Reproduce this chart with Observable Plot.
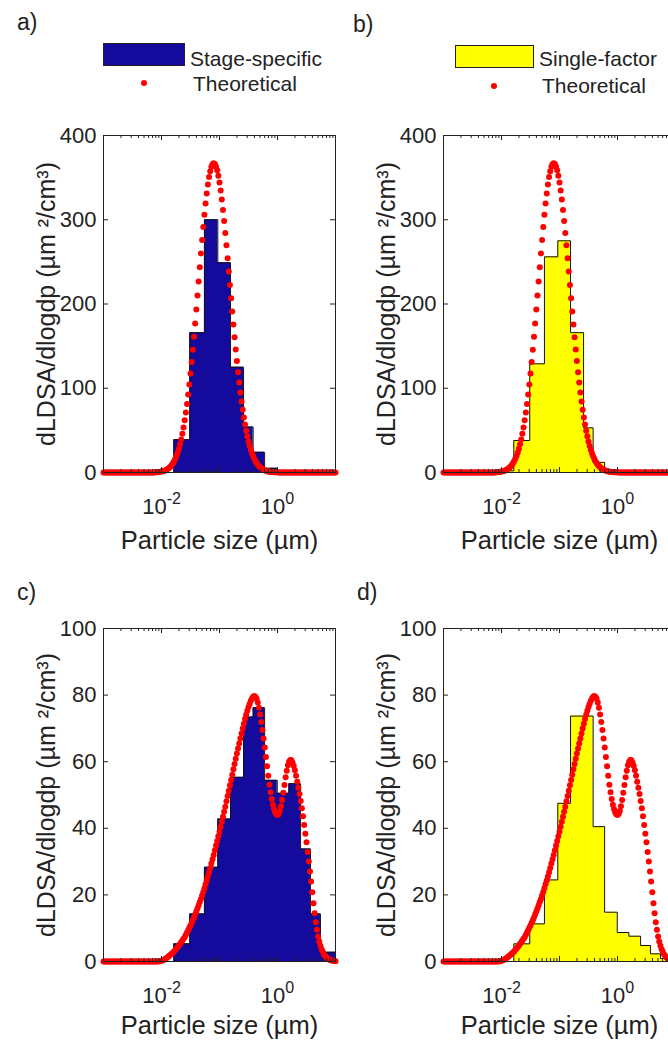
<!DOCTYPE html>
<html><head><meta charset="utf-8">
<script src="https://cdn.jsdelivr.net/npm/d3@7"></script>
<script src="https://cdn.jsdelivr.net/npm/@observablehq/plot@0.6"></script>
<style>
html,body{margin:0;padding:0;background:#fff;overflow:hidden;}
#fig{position:relative;width:668px;height:1044px;overflow:hidden;font-family:"Liberation Sans",Arial,sans-serif;color:#222;background:#fff;}
.abs{position:absolute;white-space:nowrap;line-height:1;}
.plabel{font-size:23px;}
.legtext{font-size:21px;}
.swatch{position:absolute;border:1px solid #222;box-sizing:border-box;}
.ldot{position:absolute;width:6px;height:6px;border-radius:50%;background:#f00;}
</style></head><body><div id="fig"></div>
<script>
// ---------- data ----------
const binEdges = [0.006, 0.0163, 0.0307, 0.055, 0.0935, 0.155, 0.26, 0.38, 0.6, 0.99, 1.57, 2.5, 3.7, 5.5, 10];
const stageA  = [0, 39, 166, 300, 249, 125, 54, 24, 5, 1, 0.5, 0, 0, 0];
const singleB = [2, 38, 129, 256, 275, 166, 53, 12, 2, 0.5, 0, 0, 0, 0];
const stageC  = [0, 5.3, 14.3, 28.3, 42.8, 55.3, 73.4, 76.2, 54.4, 50.5, 53.4, 33.8, 14.3, 2.8];
const singleD = [0, 5.3, 11.3, 24.5, 47.5, 73.7, 73.7, 40.5, 14.8, 8.7, 7.6, 4.8, 2.3, 0.9];

// theoretical curves sampled at log10(dp) = -3 + 0.02*i (i = 0..200)
const theoryLogStart = -3, theoryLogStep = 0.02;
const theoryAB = [
 0,0,0,0,0,0,0,0,0,0,0,0,0,0,0,
 0,0,0,0,0,0,0,0,0,0,0,0,0,0,0,
 0,0,0,0,0,0,0,0,0,0,0,0,0,0,0,
 0.3,0.4,0.5,0.7,0.9,1.1,1.5,1.9,2.4,3.1,3.9,4.8,6.0,7.4,9.2,11.2,13.6,16.5,19.9,23.8,
 28.3,33.5,39.3,46.0,53.5,61.9,71.2,81.3,92.5,104.5,117.5,131.3,145.8,161.1,177.0,193.4,
 210.0,226.8,243.5,260.0,276.0,291.4,305.8,319.2,331.2,341.8,350.7,357.7,362.8,366.0,367,
 366.1,363.3,358.7,352.3,344.3,334.8,323.9,311.7,298.4,284.3,269.6,254.2,238.5,222.6,206.7,
 191.1,175.6,160.5,146.1,132.2,119.1,106.7,95.1,84.4,74.5,65.4,57.1,49.7,43.0,36.9,
 31.6,26.9,22.8,19.3,16.1,13.4,11.2,9.2,7.6,6.2,5.0,4.1,3.3,2.6,2.1,
 1.7,1.3,1.0,0.8,0.6,0.45,0.35,0.25,0.2,0.15,0.1,
 0,0,0,0,0,0,0,0,0,0,0,0,0,0,0,
 0,0,0,0,0,0,0,0,0,0,0,0,0,0,0,
 0,0,0,0,0,0,0,0,0,0,0,0,0,0,0,
 0,0,0,0
];
const theoryCD = [
 0,0,0,0,0,0,0,0,0,0,0,0,0,0,0,
 0,0,0,0,0,0,0,0,0,0,0,0,0,0,0,
 0,0,0,0,0,0,0,0,0,0,0,0,0,0,0,
 0,0,0,
 0.05,0.1,0.2,0.35,0.5,0.7,0.95,1.2,1.5,1.8,
 2.1,2.4,2.7,3.1,3.5,3.9,4.35,4.8,5.3,5.8,
 6.3,6.8,7.3,8.0,8.7,9.4,10.1,10.8,11.6,12.4,
 13.2,14.1,15.0,15.9,16.9,17.9,18.8,19.8,20.9,22.0,
 23.2,24.3,25.5,26.8,28.1,29.4,30.7,32.0,33.4,34.8,
 36.2,37.6,39.0,40.5,42.0,43.5,45.0,46.5,48.1,49.7,
 51.3,52.9,54.5,56.1,57.7,59.3,60.9,62.5,64.0,65.5,
 67.0,68.5,70.0,71.4,72.8,74.1,75.3,76.4,77.4,78.3,
 79.0,79.5,79.7,79.5,78.9,77.8,76.2,74.2,71.9,69.5,
 67.0,64.3,61.4,58.6,55.8,53.1,50.8,48.8,47.1,45.8,
 44.8,44.2,44.0,44.3,45.2,46.6,48.5,50.7,53.0,55.3,
 57.3,58.9,60.0,60.5,60.4,59.7,58.7,57.4,55.8,54.0,
 52.2,50.3,48.2,46.0,43.6,41.0,38.4,35.8,32.9,30.0,
 27.0,24.0,20.8,17.5,14.5,11.8,9.5,7.5,6.0,4.7,
 3.7,2.9,2.2,1.7,1.3,1.0,0.75,0.55,0.4,0.3,
 0.2,0.15,0.1
];

const yTicksTop = [0, 100, 200, 300, 400];
const yTicksBottom = [0, 20, 40, 60, 80, 100];
const xMajorTicks = [0.001, 0.01, 0.1, 1, 10];
const xLabelTicks = [0.01, 1];
const xTitle = "Particle size (µm)";
const yTitle = "dLDSA/dlogdp (µm ²/cm³)";
const legendStage = "Stage-specific";
const legendSingle = "Single-factor";
const legendTheory = "Theoretical";
const panelLabels = ["a)", "b)", "c)", "d)"];

const xMinorTicks = [];
for (let e = -3; e <= 0; e++) for (let m = 2; m <= 9; m++) xMinorTicks.push(m * Math.pow(10, e));

const BLUE = "#140a9c", YELLOW = "#ffff00", RED = "#ff0000", INK = "#222";
const FONT = '"Liberation Sans", Arial, sans-serif';
const fig = document.getElementById("fig");
const NS = "http://www.w3.org/2000/svg";

function panel({left, top, frameH, yMax, yTicks, hist, fill, theory, titleDy}) {
  const mL = 103, mR = 5, mT = 10, mB = 85, W = 232;
  const steps = [{x: binEdges[0], y: 0}];
  hist.forEach((v, j) => { steps.push({x: binEdges[j], y: v}); steps.push({x: binEdges[j + 1], y: v}); });
  steps.push({x: binEdges[binEdges.length - 1], y: 0});
  const th = theory.map((v, i) => ({x: Math.pow(10, theoryLogStart + theoryLogStep * i), y: v}));
  const svg = Plot.plot({
    width: mL + W + mR, height: mT + frameH + mB,
    marginLeft: mL, marginRight: mR, marginTop: mT, marginBottom: mB,
    style: {background: "transparent", fontFamily: FONT, fontSize: "22px", color: INK, overflow: "visible", maxWidth: "none"},
    x: {type: "log", domain: [1e-3, 10]},
    y: {domain: [0, yMax]},
    marks: [
      Plot.areaY(steps, {x: "x", y1: 0, y2: "y", fill}),
      Plot.line(steps, {x: "x", y: "y", stroke: "#111", strokeWidth: 1}),
      Plot.dot(th, {x: "x", y: "y", r: 3, fill: RED, stroke: null}),
      Plot.frame({stroke: INK}),
      Plot.tickY(yTicks, {y: d => d, insetRight: W - 5, stroke: INK}),
      Plot.tickY(yTicks, {y: d => d, insetLeft: W - 5, stroke: INK}),
      Plot.tickX(xMajorTicks, {x: d => d, insetTop: frameH - 5, stroke: INK}),
      Plot.tickX(xMajorTicks, {x: d => d, insetBottom: frameH - 5, stroke: INK}),
      Plot.tickX(xMinorTicks, {x: d => d, insetTop: frameH - 3, stroke: INK}),
      Plot.tickX(xMinorTicks, {x: d => d, insetBottom: frameH - 3, stroke: INK}),
      Plot.axisY({ticks: yTicks, tickSize: 0, tickPadding: 7, label: null, tickFormat: d => String(d)}),
      Plot.axisX({ticks: xLabelTicks, tickSize: 0, tickPadding: 26, label: null, tickFormat: d => String(Math.round(Math.log10(d)))}),
      Plot.text([xTitle], {frameAnchor: "bottom", dy: titleDy, lineAnchor: "bottom", text: d => d, fontSize: 25.5, fill: INK}),
      Plot.text([yTitle], {frameAnchor: "left", textAnchor: "middle", dx: -57, rotate: -90, text: d => d, fontSize: 25, fill: INK})
    ]
  });
  svg.querySelectorAll('[aria-label="x-axis tick label"] text').forEach(t => {
    const ex = t.textContent;
    t.textContent = "";
    const a = document.createElementNS(NS, "tspan"); a.textContent = "10";
    const b = document.createElementNS(NS, "tspan"); b.textContent = ex;
    b.setAttribute("dy", "-10"); b.setAttribute("font-size", "16px");
    t.append(a, b);
  });
  const wrap = document.createElement("div");
  wrap.className = "abs";
  wrap.style.left = left + "px"; wrap.style.top = (top - mT) + "px";
  wrap.appendChild(svg);
  fig.appendChild(wrap);
}

function addText(txt, cls, left, top) {
  const d = document.createElement("div");
  d.className = "abs " + cls; d.textContent = txt;
  d.style.left = left + "px"; d.style.top = top + "px";
  fig.appendChild(d);
}
function addLegend(label, color, sx, sy, sw, tx, ty, dx, dy, t2x, t2y) {
  const s = document.createElement("div");
  s.className = "swatch"; s.style.left = sx + "px"; s.style.top = sy + "px";
  s.style.width = sw + "px"; s.style.height = "23px"; s.style.background = color;
  fig.appendChild(s);
  addText(label, "legtext", tx, ty);
  const dot = document.createElement("div");
  dot.className = "ldot"; dot.style.left = (dx - 3) + "px"; dot.style.top = (dy - 3) + "px";
  fig.appendChild(dot);
  addText(legendTheory, "legtext", t2x, t2y);
}

panel({left: 0,   top: 135, frameH: 337, yMax: 400, yTicks: yTicksTop, hist: stageA,  fill: BLUE,   theory: theoryAB, titleDy: 76});
panel({left: 340, top: 135, frameH: 337, yMax: 400, yTicks: yTicksTop, hist: singleB, fill: YELLOW, theory: theoryAB, titleDy: 76});
panel({left: 0,   top: 628, frameH: 333, yMax: 100, yTicks: yTicksBottom, hist: stageC,  fill: BLUE,   theory: theoryCD, titleDy: 72});
panel({left: 340, top: 628, frameH: 333, yMax: 100, yTicks: yTicksBottom, hist: singleD, fill: YELLOW, theory: theoryCD, titleDy: 72});

addText(panelLabels[0], "plabel", 17, 11);
addText(panelLabels[1], "plabel", 353, 13);
addText(panelLabels[2], "plabel", 17, 581);
addText(panelLabels[3], "plabel", 357, 581);

addLegend(legendStage, BLUE, 103, 43, 82, 190, 48, 144, 83, 193, 73);
addLegend(legendSingle, YELLOW, 455, 45, 79, 539, 48, 494, 86, 542, 75);
</script></body></html>
